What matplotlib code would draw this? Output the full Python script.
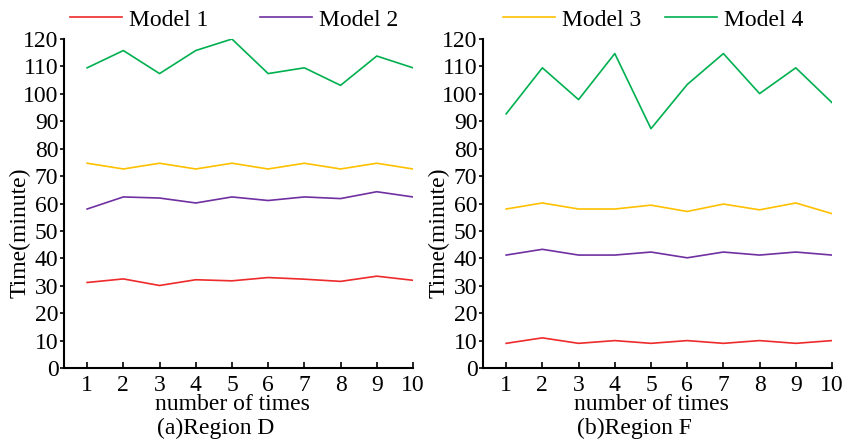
import numpy as np
from matplotlib import pyplot as plt

plt.rcParams['font.family'] = ['Liberation Serif', 'DejaVu Serif']
plt.rcParams['font.size'] = 17

#x values and the four models for each region
times = [1, 2, 3, 4, 5, 6, 7, 8, 9, 10]
labels = ['Model 1', 'Model 2', 'Model 3', 'Model 4']
colors = ['#ee2a2a', '#7030a0', '#ffc000', '#00b050']

#Region D
d_m1 = [31.2, 32.5, 30.1, 32.2, 31.8, 33.0, 32.4, 31.6, 33.5, 32.0]
d_m2 = [58.0, 62.4, 62.0, 60.2, 62.4, 61.1, 62.4, 61.8, 64.3, 62.4]
d_m3 = [74.7, 72.6, 74.7, 72.6, 74.7, 72.6, 74.7, 72.6, 74.7, 72.6]
d_m4 = [109.5, 115.8, 107.4, 115.8, 120.0, 107.4, 109.5, 103.1, 113.8, 109.5]

#Region F
f_m1 = [9.0, 11.0, 9.0, 10.0, 9.0, 10.0, 9.0, 10.0, 9.0, 10.0]
f_m2 = [41.2, 43.3, 41.2, 41.2, 42.3, 40.2, 42.3, 41.2, 42.3, 41.2]
f_m3 = [58.0, 60.2, 58.0, 58.0, 59.4, 57.1, 59.8, 57.7, 60.2, 56.3]
f_m4 = [92.7, 109.5, 97.9, 114.7, 87.3, 103.4, 114.7, 100.1, 109.5, 96.8]

regions = [[d_m1, d_m2, d_m3, d_m4], [f_m1, f_m2, f_m3, f_m4]]
captions = ['(a)Region D', '(b)Region F']

fig = plt.figure(figsize=(8.45, 4.41), dpi=100)
ax1 = fig.add_axes([0.0757, 0.1655, 0.413, 0.746])
ax2 = fig.add_axes([0.5716, 0.1655, 0.413, 0.746])
axes = [ax1, ax2]

for k in range(2):
    ax = axes[k]
    lines = []
    for i in range(4):
        ln, = ax.plot(times, regions[k][i], color=colors[i], lw=1.2, label=labels[i])
        lines.append(ln)
    ax.set_xlim(0.36, 10)
    ax.set_ylim(0, 120)
    ax.set_xticks(times)
    ax.set_yticks(np.arange(0, 121, 10))
    ax.spines['top'].set_visible(False)
    ax.spines['right'].set_visible(False)
    for s in ['left', 'bottom']:
        ax.spines[s].set_linewidth(1.5)
    ax.tick_params(axis='x', direction='in', length=4, width=1.2, pad=5)
    ax.tick_params(axis='y', direction='out', length=3, width=1.2, pad=1)
    ax.set_xlabel('number of times')
    ax.xaxis.label.set_va('center')
    ax.xaxis.set_label_coords(0.484, -0.112)
    ax.set_ylabel('Time(minute)')
    ax.yaxis.set_label_coords(-0.095, 0.41)
    ax.text(0.435, -0.183, captions[k], transform=ax.transAxes,
            ha='center', va='center')
    #each panel shows half of the legend
    sel = lines[2*k:2*k+2]
    anchor_x = 0.017 if k == 0 else 0.057
    colsp = 2.2 if k == 0 else 1.0
    ax.legend(sel, [l.get_label() for l in sel], ncol=2, frameon=False,
              loc='center left', bbox_to_anchor=(anchor_x, 1.058),
              borderaxespad=0, borderpad=0, handlelength=2.2,
              handletextpad=0.3, columnspacing=colsp)

fig.savefig('out.png', dpi=100)
